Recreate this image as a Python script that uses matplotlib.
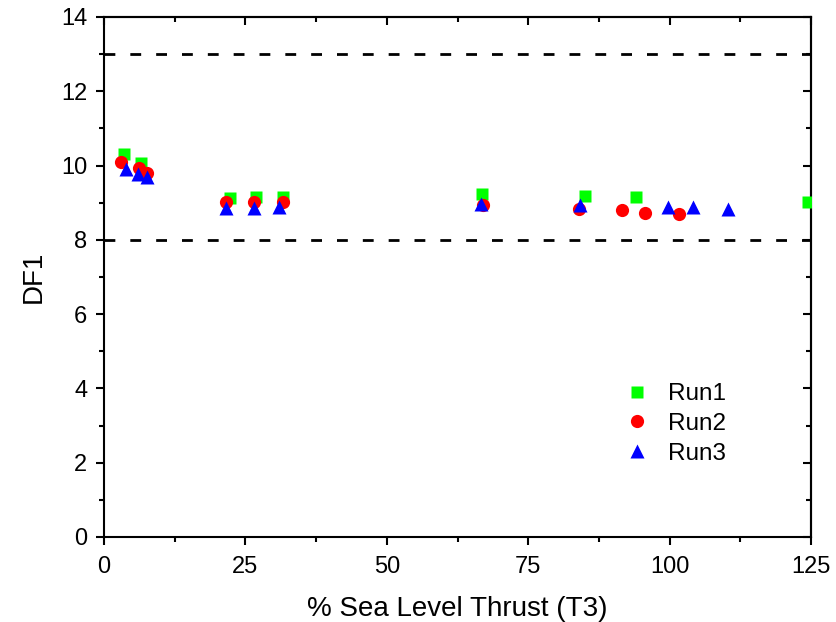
import numpy as np
from matplotlib import pyplot as plt
from matplotlib.ticker import MultipleLocator

plt.rcParams['font.family'] = ['Liberation Sans', 'DejaVu Sans']

# data
run1_x = [3.5, 6.6, 22.2, 26.8, 31.7, 66.9, 85.0, 94.0, 124.4]
run1_y = [10.31, 10.06, 9.12, 9.15, 9.16, 9.24, 9.19, 9.15, 9.03]

run2_x = [2.95, 6.1, 7.55, 21.6, 26.6, 31.6, 67.0, 84.0, 91.5, 95.7, 101.6]
run2_y = [10.1, 9.93, 9.79, 9.03, 9.01, 9.03, 8.94, 8.82, 8.79, 8.72, 8.70]

run3_x = [3.9, 6.0, 7.55, 21.6, 26.6, 31.0, 66.7, 84.2, 99.7, 104.2, 110.4]
run3_y = [9.9, 9.77, 9.69, 8.85, 8.85, 8.89, 8.97, 8.93, 8.88, 8.88, 8.82]

limits = [8, 13]

fig = plt.figure(figsize=(8.36, 6.22), dpi=100)
ax = fig.add_axes([0.1244, 0.1367, 0.8457, 0.836])

for lim in limits:
    ax.axhline(lim, color='black', lw=2, dashes=(3.9, 5.4), zorder=1)

ax.plot(run1_x, run1_y, 's', color='#00ff00', ms=8.5, mec='none', label='Run1', zorder=3)
ax.plot(run2_x, run2_y, 'o', color='#ff0000', ms=9.5, mec='none', label='Run2', zorder=4)
ax.plot(run3_x, run3_y, '^', color='#0000ff', ms=10.5, mec='none', label='Run3', zorder=5)

ax.set_xlim(0, 125)
ax.set_ylim(0, 14)
ax.xaxis.set_major_locator(MultipleLocator(25))
ax.xaxis.set_minor_locator(MultipleLocator(12.5))
ax.yaxis.set_major_locator(MultipleLocator(2))
ax.yaxis.set_minor_locator(MultipleLocator(1))

for s in ax.spines.values():
    s.set_linewidth(1.5)

ax.tick_params(which='both', direction='out', width=1.5, labelsize=17, pad=6)
ax.tick_params(axis='x', which='both', pad=8)
ax.tick_params(which='major', length=6)
ax.tick_params(which='minor', length=3.5)
# the top and right axes carry inward ticks without labels
secx = ax.secondary_xaxis('top')
secx.xaxis.set_major_locator(MultipleLocator(25))
secx.xaxis.set_minor_locator(MultipleLocator(12.5))
secx.tick_params(which='both', direction='in', width=1.5, labeltop=False)
secx.tick_params(which='major', length=6)
secx.tick_params(which='minor', length=3.5)
secy = ax.secondary_yaxis('right')
secy.yaxis.set_major_locator(MultipleLocator(2))
secy.yaxis.set_minor_locator(MultipleLocator(1))
secy.tick_params(which='both', direction='in', width=1.5, labelright=False)
secy.tick_params(which='major', length=6)
secy.tick_params(which='minor', length=3.5)
for sa in (secx, secy):
    for s in sa.spines.values():
        s.set_linewidth(1.5)

ax.set_xlabel('% Sea Level Thrust (T3)', fontsize=20, labelpad=13)
ax.set_ylabel('DF1', fontsize=20, labelpad=10)

ax.legend(loc='upper left', bbox_to_anchor=(0.703, 0.338), frameon=False,
          fontsize=17.5, handletextpad=0.65, labelspacing=0.32, handlelength=1.2)

fig.savefig('out.png', dpi=100)
